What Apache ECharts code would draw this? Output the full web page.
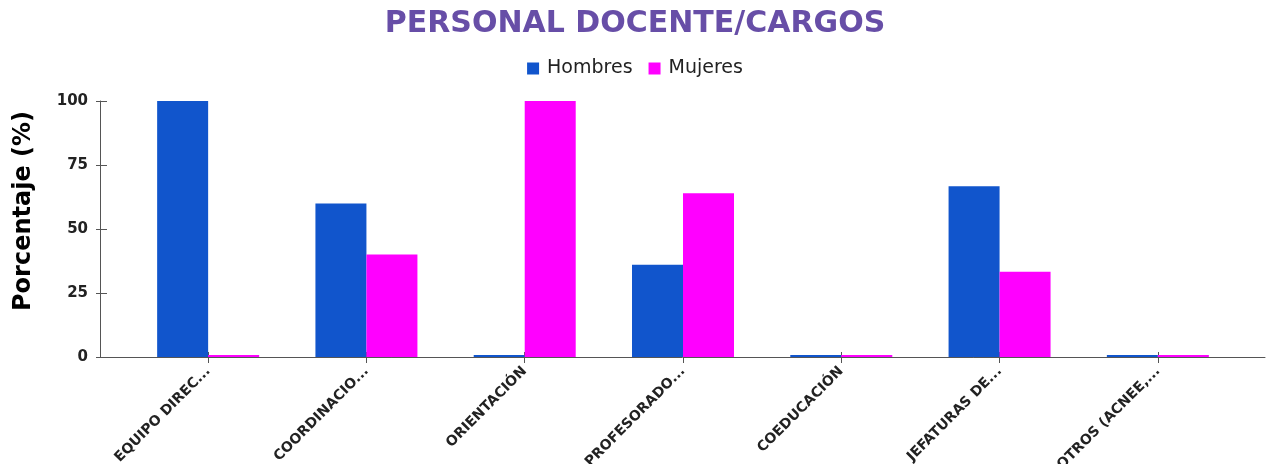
<!DOCTYPE html>
<html>
<head>
<meta charset="utf-8">
<script src="https://cdn.jsdelivr.net/npm/echarts@6/dist/echarts.min.js"></script>
<style>
html,body{margin:0;padding:0;background:#fff;}
#chart{width:1270px;height:464px;}
</style>
</head>
<body>
<div id="chart"></div>
<script>
var aCargos=["EQUIPO DIREC...","COORDINACIO...","ORIENTACIÓN","PROFESORADO...","COEDUCACIÓN","JEFATURAS DE...","OTROS (ACNEE,..."];
var aHombres=[100,60,0,36,0,66.7,0];
var aMujeres=[0,40,100,64,0,33.3,0];
var aTicksY=[0,25,50,75,100];

var sFont="DejaVu Sans";
var oChart=echarts.init(document.getElementById("chart"));
var hidden={show:false};
var option={
    animation:false,
    textStyle:{fontFamily:sFont},
    title:{
        text:"PERSONAL DOCENTE/CARGOS",
        left:"center",
        top:4,
        textStyle:{color:"#674ea7",fontSize:30,fontWeight:"bold",fontFamily:sFont}
    },
    legend:{
        top:54,
        left:"center",
        itemWidth:12,
        itemHeight:12,
        itemGap:16,
        icon:"rect",
        textStyle:{fontSize:19,color:"#222",fontFamily:sFont,padding:[0,0,0,3]},
        data:["Hombres","Mujeres"]
    },
    grid:[
        {left:100,right:5,top:101,height:256,outerBoundsMode:"none",containLabel:false},
        {left:129,right:33,top:101,height:256,outerBoundsMode:"none",containLabel:false}
    ],
    xAxis:[
        {
            type:"value",gridIndex:0,min:0,max:1,
            axisLine:{show:true,lineStyle:{color:"#555",width:1}},
            axisTick:hidden,axisLabel:hidden,splitLine:hidden
        },
        {
            // ticks cruzan la linea del eje: se sube 5px y se alargan
            type:"category",gridIndex:1,data:aCargos,position:"bottom",offset:-5,
            axisLine:{show:false,onZero:false},
            axisTick:{show:true,alignWithLabel:true,length:11,lineStyle:{color:"#555"}},
            axisLabel:{rotate:45,fontSize:14,fontWeight:"bold",color:"#222",margin:17,interval:0,fontFamily:sFont},
            splitLine:hidden
        }
    ],
    yAxis:[
        {
            type:"value",gridIndex:0,min:0,max:100,interval:25,position:"left",
            name:"Porcentaje (%)",
            nameLocation:"middle",
            nameGap:64,
            nameTextStyle:{fontSize:24,fontWeight:"bold",color:"#000",padding:[0,0,0,36],fontFamily:sFont},
            axisLine:{show:true,lineStyle:{color:"#555"}},
            axisTick:{show:true,length:4,lineStyle:{color:"#555"}},
            axisLabel:{fontSize:15,fontWeight:"bold",color:"#222",margin:12,fontFamily:sFont,
                formatter:function(v){return aTicksY.indexOf(v)>=0?String(v):"";}},
            splitLine:hidden
        },
        {
            type:"value",gridIndex:0,min:0,max:100,interval:25,position:"left",
            axisLine:hidden,
            axisTick:{show:true,inside:true,length:7,lineStyle:{color:"#555"}},
            axisLabel:hidden,splitLine:hidden
        },
        {
            type:"value",gridIndex:1,min:0,max:100,position:"left",
            axisLine:hidden,axisTick:hidden,axisLabel:hidden,splitLine:hidden
        }
    ],
    series:[
        {
            name:"Hombres",type:"bar",xAxisIndex:1,yAxisIndex:2,
            data:aHombres,barWidth:51,barGap:"0%",barMinHeight:2,
            itemStyle:{color:"#1155cc"}
        },
        {
            name:"Mujeres",type:"bar",xAxisIndex:1,yAxisIndex:2,
            data:aMujeres,barWidth:51,barGap:"0%",barMinHeight:2,
            itemStyle:{color:"#ff00ff"}
        }
    ]
};
oChart.setOption(option);
</script>
</body>
</html>
